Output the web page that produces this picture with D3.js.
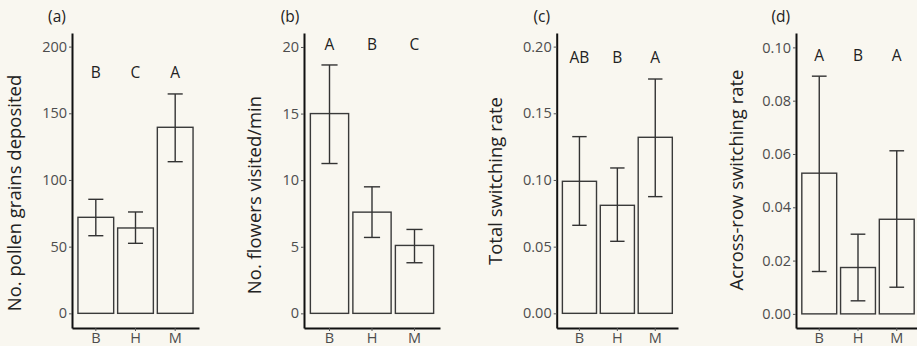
<!DOCTYPE html>
<html>
<head>
<meta charset="utf-8">
<script src="https://cdn.jsdelivr.net/npm/d3@7/dist/d3.min.js"></script>
<style>
  html, body { margin: 0; padding: 0; background: #f9f7f0; }
  svg { display: block; font-family: "Open Sans", sans-serif; }
</style>
</head>
<body>
<svg id="chart" width="917" height="346"></svg>
<script>
// categories (x axis)
const categories = ["B", "H", "M"];

// (a) pollen grains deposited
const pollenMean = [72, 64, 139.5];
const pollenLow = [58.2, 52.5, 113.7];
const pollenHigh = [85.5, 76, 164.5];
const pollenLetters = ["B", "C", "A"];
const pollenTicks = [0, 50, 100, 150, 200];

// (b) flowers visited per minute
const visitMean = [15, 7.6, 5.1];
const visitLow = [11.25, 5.7, 3.8];
const visitHigh = [18.65, 9.5, 6.3];
const visitLetters = ["A", "B", "C"];
const visitTicks = [0, 5, 10, 15, 20];

// (c) total switching rate
const totalMean = [0.099, 0.081, 0.132];
const totalLow = [0.066, 0.054, 0.0875];
const totalHigh = [0.1325, 0.109, 0.1757];
const totalLetters = ["AB", "B", "A"];
const totalTicks = [0, 0.05, 0.10, 0.15, 0.20];

// (d) across-row switching rate
const acrossMean = [0.0528, 0.0174, 0.0355];
const acrossLow = [0.0159, 0.0049, 0.0100];
const acrossHigh = [0.0892, 0.0299, 0.0612];
const acrossLetters = ["A", "B", "A"];
const acrossTicks = [0, 0.02, 0.04, 0.06, 0.08, 0.10];

const bg = "#f9f7f0";
const svg = d3.select("#chart");
svg.append("rect").attr("width", 917).attr("height", 346).attr("fill", bg);

// panel layout
const panels = [
  { tag: "(a)", title: "No. pollen grains deposited", mean: pollenMean, low: pollenLow, high: pollenHigh,
    letters: pollenLetters, letterY: 180.5, ticks: pollenTicks, fmt: d3.format("d"), domain: [-11, 210.2],
    x0: 72, x1: 199, tagX: 57, titleX: 15, titleY: 193 },
  { tag: "(b)", title: "No. flowers visited/min", mean: visitMean, low: visitLow, high: visitHigh,
    letters: visitLetters, letterY: 20.17, ticks: visitTicks, fmt: d3.format("d"), domain: [-1.1, 21.05],
    x0: 304, x1: 440, tagX: 290, titleX: 255, titleY: 195 },
  { tag: "(c)", title: "Total switching rate", mean: totalMean, low: totalLow, high: totalHigh,
    letters: totalLetters, letterY: 0.192, ticks: totalTicks, fmt: d3.format(".2f"), domain: [-0.011, 0.2102],
    x0: 556.7, x1: 678, tagX: 541.7, titleX: 496, titleY: 181 },
  { tag: "(d)", title: "Across-row switching rate", mean: acrossMean, low: acrossLow, high: acrossHigh,
    letters: acrossLetters, letterY: 0.0971, ticks: acrossTicks, fmt: d3.format(".2f"), domain: [-0.0053, 0.1054],
    x0: 796, x1: 920, tagX: 780.7, titleX: 736.7, titleY: 180 }
];

const plotTop = 33, plotBottom = 328;

panels.forEach(p => {
  const g = svg.append("g");

  const x = d3.scaleBand().domain(categories).range([p.x0, p.x1])
    .paddingInner(0.1).paddingOuter(0.15);
  const y = d3.scaleLinear().domain(p.domain).range([plotBottom, plotTop]);
  const unit = x.step();
  const cx = d => x(d) + x.bandwidth() / 2;

  // bars
  g.selectAll("rect.bar").data(categories).join("rect")
    .attr("class", "bar")
    .attr("x", d => x(d))
    .attr("width", x.bandwidth())
    .attr("y", (d, i) => y(p.mean[i]))
    .attr("height", (d, i) => y(0) - y(p.mean[i]))
    .attr("fill", bg)
    .attr("stroke", "#3a3a3a")
    .attr("stroke-width", 1.4);

  // error bars
  const capW = unit * 0.38;
  const eb = g.selectAll("g.err").data(categories).join("g").attr("class", "err")
    .attr("stroke", "#333").attr("stroke-width", 1.4);
  eb.append("line")
    .attr("x1", cx).attr("x2", cx)
    .attr("y1", (d, i) => y(p.low[i])).attr("y2", (d, i) => y(p.high[i]));
  eb.append("line")
    .attr("x1", d => cx(d) - capW / 2).attr("x2", d => cx(d) + capW / 2)
    .attr("y1", (d, i) => y(p.high[i])).attr("y2", (d, i) => y(p.high[i]));
  eb.append("line")
    .attr("x1", d => cx(d) - capW / 2).attr("x2", d => cx(d) + capW / 2)
    .attr("y1", (d, i) => y(p.low[i])).attr("y2", (d, i) => y(p.low[i]));

  // significance letters
  g.selectAll("text.letter").data(categories).join("text")
    .attr("class", "letter")
    .attr("x", cx)
    .attr("y", y(p.letterY))
    .attr("dy", "0.36em")
    .attr("text-anchor", "middle")
    .attr("font-size", 15.5)
    .attr("fill", "#222")
    .text((d, i) => p.letters[i]);

  // y axis
  const ya = g.append("g").attr("transform", `translate(${p.x0},0)`)
    .call(d3.axisLeft(y).tickValues(p.ticks).tickFormat(p.fmt).tickSize(3).tickSizeOuter(0).tickPadding(2));
  ya.select(".domain").attr("stroke", "#111").attr("stroke-width", 2);
  ya.selectAll(".tick line").attr("stroke", "#555");
  ya.selectAll(".tick text").attr("font-size", 14.5).attr("fill", "#4d4d4d").attr("font-family", "Open Sans");

  // x axis
  const xa = g.append("g").attr("transform", `translate(0,${plotBottom})`)
    .call(d3.axisBottom(x).tickSize(3).tickSizeOuter(0).tickPadding(2));
  xa.select(".domain").attr("stroke", "#111").attr("stroke-width", 2);
  xa.selectAll(".tick line").attr("stroke", "#555");
  xa.selectAll(".tick text").attr("font-size", 14.5).attr("fill", "#4d4d4d").attr("font-family", "Open Sans");

  // panel tag
  g.append("text")
    .attr("x", p.tagX).attr("y", 17).attr("dy", "0.35em")
    .attr("text-anchor", "middle").attr("font-size", 15.5).attr("fill", "#222")
    .text(p.tag);

  // y title
  g.append("text")
    .attr("transform", `translate(${p.titleX},${p.titleY}) rotate(-90)`)
    .attr("dy", "0.35em")
    .attr("text-anchor", "middle").attr("font-size", 18.5).attr("fill", "#222")
    .text(p.title);
});
</script>
</body>
</html>
